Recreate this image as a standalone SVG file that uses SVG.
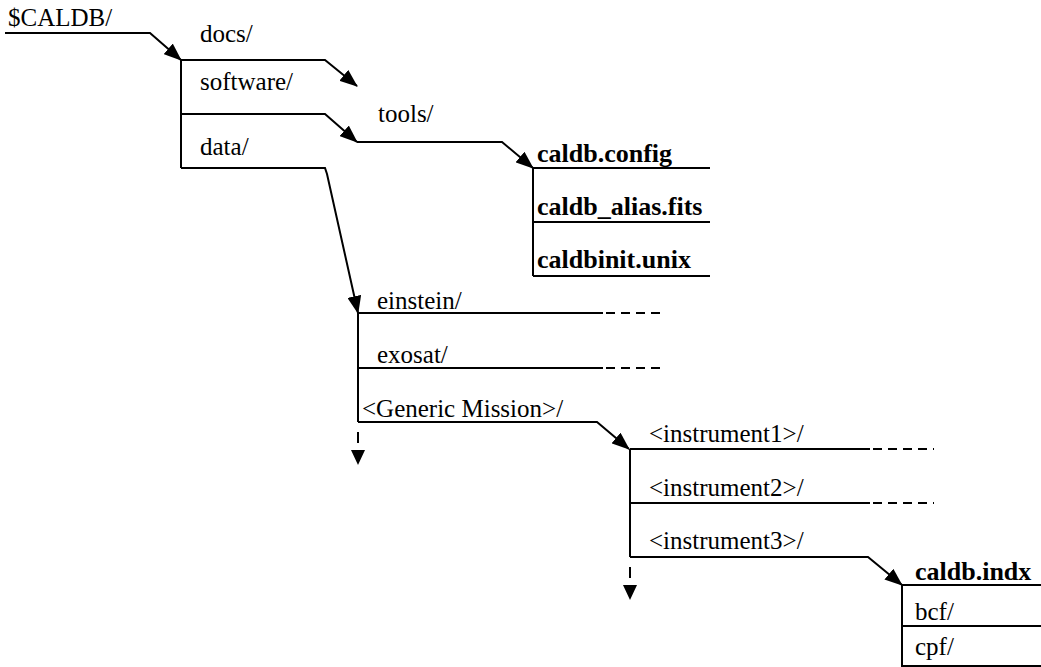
<svg xmlns="http://www.w3.org/2000/svg" width="1041" height="667" viewBox="0 0 1041 667">
<style>
text{font-family:'Liberation Serif','Times New Roman','DejaVu Serif',serif;font-size:25px;fill:#000}
.b{font-weight:bold;font-size:26px}
.l{stroke:#000;stroke-width:2;fill:none}
.d{stroke:#000;stroke-width:2;fill:none;stroke-dasharray:9 6}
</style>
<defs>
<marker id="ah" viewBox="0 0 18 14" refX="17" refY="7" markerWidth="18" markerHeight="14" markerUnits="userSpaceOnUse" orient="auto">
<path d="M0,0 L18,7 L0,14 z" fill="#000"/>
</marker>
</defs>
<rect width="1041" height="667" fill="#fff"/>
<g id="connectors">
<polyline class="l" points="5,33 150,33 181,60" marker-end="url(#ah)"/>
<line class="l" x1="181" y1="60" x2="181" y2="168"/>
<polyline class="l" points="181,60 325,60 357,86" marker-end="url(#ah)"/>
<polyline class="l" points="181,114 325,114 357,142" marker-end="url(#ah)"/>
<polyline class="l" points="181,168 325,168 327,174 358,313" marker-end="url(#ah)"/>
<polyline class="l" points="357,142 502,142 533,168" marker-end="url(#ah)"/>
<line class="l" x1="358" y1="313" x2="358" y2="422"/>
<line class="l" x1="358" y1="313" x2="603" y2="313"/>
<line class="d" x1="606" y1="313" x2="662" y2="313"/>
<line class="l" x1="358" y1="368" x2="603" y2="368"/>
<line class="d" x1="606" y1="368" x2="662" y2="368"/>
<polyline class="l" points="358,422 597,422 629,449" marker-end="url(#ah)"/>
<line class="l" x1="358" y1="432" x2="358" y2="443"/>
<polygon points="351,450 365,450 358,465" fill="#000"/>
<line class="l" x1="630" y1="449" x2="630" y2="557"/>
<line class="l" x1="630" y1="449" x2="870" y2="449"/>
<line class="d" x1="873" y1="449" x2="934" y2="449"/>
<line class="l" x1="630" y1="503" x2="870" y2="503"/>
<line class="d" x1="873" y1="503" x2="934" y2="503"/>
<polyline class="l" points="630,557 868,557 902,585" marker-end="url(#ah)"/>
<line class="l" x1="630" y1="567" x2="630" y2="578"/>
<polygon points="623,585 637,585 630,600" fill="#000"/>
</g>
<g id="root"><text x="8" y="26">$CALDB/</text></g>
<g id="top">
<text x="200" y="42">docs/</text>
<text x="200" y="90">software/</text>
<text x="200" y="155">data/</text>
</g>
<g id="tools"><text x="378" y="122">tools/</text></g>
<g id="toolfiles">
<line class="l" x1="533" y1="168" x2="533" y2="276"/>
<line class="l" x1="533" y1="168" x2="710" y2="168"/>
<line class="l" x1="533" y1="222" x2="710" y2="222"/>
<line class="l" x1="533" y1="276" x2="710" y2="276"/>
<text class="b" x="537" y="162">caldb.config</text>
<text class="b" x="537" y="215">caldb_alias.fits</text>
<text class="b" x="537" y="268">caldbinit.unix</text>
</g>
<g id="missions">
<text x="377" y="309">einstein/</text>
<text x="377" y="363">exosat/</text>
<text x="362" y="417">&lt;Generic Mission&gt;/</text>
</g>
<g id="instruments">
<text x="649" y="442">&lt;instrument1&gt;/</text>
<text x="649" y="496">&lt;instrument2&gt;/</text>
<text x="649" y="549">&lt;instrument3&gt;/</text>
</g>
<g id="instfiles">
<line class="l" x1="902" y1="585" x2="902" y2="667"/>
<line class="l" x1="902" y1="585" x2="1041" y2="585"/>
<line class="l" x1="902" y1="626" x2="1041" y2="626"/>
<line class="l" x1="902" y1="666" x2="1041" y2="666"/>
<text class="b" x="915" y="580">caldb.indx</text>
<text x="915" y="620">bcf/</text>
<text x="915" y="655">cpf/</text>
</g>
</svg>
